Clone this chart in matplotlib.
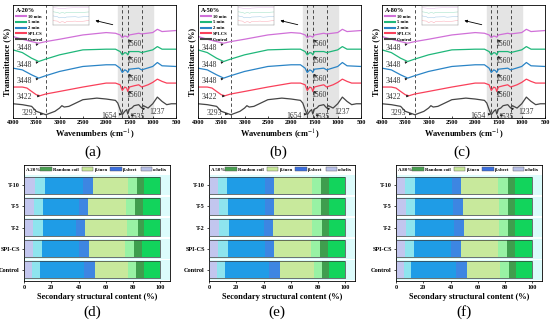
import numpy as np
import matplotlib.pyplot as plt
from matplotlib.patches import Patch
from matplotlib.lines import Line2D

plt.rcParams['font.family'] = ['Liberation Serif', 'DejaVu Serif']
plt.rcParams['mathtext.fontset'] = 'stix'

# ---- FTIR spectra (offset, arbitrary units) ----
ctrl_x = [4000, 3800, 3600, 3500, 3293, 3100, 3000, 2950, 2900, 2800, 2500, 2200, 2000, 1800, 1750,
          1700, 1654, 1600, 1560, 1535, 1500, 1450, 1400, 1300, 1237, 1200, 1100, 1000, 900, 800,
          700, 600, 500]
ctrl_y = [12.6, 11.8, 10.3, 5.9, 2.9, 5.9, 8.8, 10.9, 9.7, 10.3, 16.2, 17.6, 16.8, 15.6, 13.2,
          7.4, 2.9, 5.9, 7.4, 3.5, 7.9, 8.8, 10.9, 11.8, 8.8, 10.9, 8.8, 12.6, 18.5, 14.7,
          11.8, 12.6, 12.6]
spi_x = [4000, 3800, 3700, 3600, 3500, 3422, 3300, 3000, 2500, 2000, 1800, 1700, 1654, 1600,
         1560, 1535, 1500, 1400, 1300, 1237, 1100, 1000, 900, 800, 700, 500]
spi_y = [27.4, 27.4, 26.5, 23.5, 20.6, 19.7, 21.2, 23.5, 27.4, 30.9, 30.9, 29.4, 24.4, 27.4,
         26.5, 23.5, 27.4, 28.5, 29.4, 27.4, 29.4, 31.5, 34.4, 32.4, 30.9, 30.9]
t_x = [4000, 3800, 3600, 3448, 3300, 3000, 2500, 2000, 1800, 1700, 1654, 1600, 1560, 1535,
       1500, 1300, 1237, 1000, 900, 800, 500]
t2_y = [44.1, 42.6, 38.2, 35.3, 37.4, 41.2, 45.6, 47.1, 47.1, 44.1, 40.3, 42.6, 41.8, 40.3,
        43.2, 44.1, 42.6, 45.6, 49.1, 46.2, 45.6]
t5_y = [60.3, 57.9, 52.9, 50.0, 52.1, 55.9, 60.3, 60.9, 60.9, 58.8, 55.9, 57.9, 57.4, 55.9,
        58.8, 58.8, 57.9, 60.3, 63.2, 60.9, 60.9]
t10_y = [72.1, 69.7, 67.6, 66.2, 67.6, 69.7, 73.5, 75.6, 75.0, 73.5, 71.2, 72.6, 72.1, 71.5,
         73.5, 75.0, 74.4, 75.6, 78.5, 76.5, 77.4]

series_names = ['10 min', '5 min', '2 min', 'SPI-CS', 'Control']
series_cols = ['#d070d8', '#1fb77a', '#2a84c6', '#f9405a', '#454545']
series_xy = [(t_x, t10_y), (t_x, t5_y), (t_x, t2_y), (spi_x, spi_y), (ctrl_x, ctrl_y)]

# ---- secondary structure (%), rows: Control, SPI-CS, T-2, T-5, T-10 ----
samples = ['Control', 'SPI-CS', 'T-2', 'T-5', 'T-10']
helix = {'A-20%': [11.8, 13.2, 13.7, 14.2, 15.4],
         'A-50%': [11.8, 13.7, 14.7, 14.2, 13.5],
         'A-80%': [11.0, 12.9, 14.0, 14.0, 13.6]}
sheet = {'A-20%': [40.4, 34.1, 30.7, 32.6, 35.1],
         'A-50%': [40.4, 34.3, 31.9, 33.8, 34.4],
         'A-80%': [41.0, 34.6, 36.0, 35.0, 33.9]}
turn = {'A-20%': [30.2, 33.6, 38.9, 34.8, 32.5],
        'A-50%': [30.6, 33.6, 36.2, 34.4, 34.5],
        'A-80%': [30.7, 34.2, 32.0, 33.0, 34.5]}
coil = {'A-20%': [17.6, 19.1, 16.7, 18.4, 17.0],
        'A-50%': [17.2, 18.4, 17.2, 17.6, 17.6],
        'A-80%': [17.3, 18.3, 18.0, 18.0, 18.0]}

groups = ['A-20%', 'A-50%', 'A-80%']

fig = plt.figure(figsize=(5.5, 3.2), dpi=100)

ftir_left = [13, 198, 382]
bar_left = [24, 209, 396]
letters = ['(a)', '(b)', '(c)', '(d)', '(e)', '(f)']


def px_box(x0, x1, ytop, ybot):
    return [x0 / 550, 1 - ybot / 320, (x1 - x0) / 550, (ybot - ytop) / 320]


for k, g in enumerate(groups):
    x0 = ftir_left[k]
    ax = fig.add_axes(px_box(x0, x0 + 163, 5, 118))
    ax.axvspan(1750, 1000, color='#e4e4e4', zorder=0)
    for xv in [3293, 1654, 1535, 1237]:
        ax.axvline(xv, color='#333333', ls=(0, (4, 3)), lw=0.6, zorder=1)
    for (xs, ys), c, nm in zip(series_xy, series_cols, series_names):
        ax.plot(xs, ys, color=c, lw=0.9, zorder=2)
    ax.set_xlim(4000, 500)
    ax.set_ylim(0, 100)
    ax.set_xticks(range(4000, 499, -500))
    ax.set_yticks([])
    ax.tick_params(axis='x', labelsize=4.5, length=1.5, width=0.5, pad=1.5, direction='in')
    for lb in ax.get_xticklabels():
        lb.set_fontweight('bold')
    for s in ax.spines.values():
        s.set_linewidth(0.6)
    ax.set_xlabel('Wavenumbers (cm$^{-1}$)', fontsize=6, fontweight='bold', labelpad=1.5)
    ax.set_ylabel('Transmittance (%)', fontsize=6, fontweight='bold', labelpad=1.5)

    handles = [Line2D([0], [0], color=c, lw=1.5) for c in series_cols]
    leg = ax.legend(handles, series_names, loc='upper left', fontsize=3.3, frameon=False,
                    handlelength=2.2, labelspacing=0.35, borderaxespad=0.2, handletextpad=0.4,
                    title=g, title_fontsize=4.5, bbox_to_anchor=(0.0, 1.0))
    leg.get_title().set_fontweight('bold')
    leg._legend_box.align = 'left'
    for t in leg.get_texts():
        t.set_fontweight('bold')

    ann = dict(arrowstyle='-|>', color='#222222', lw=0.5, mutation_scale=3)
    kw = dict(fontsize=5.5, color='#333333', ha='center', va='center')
    for lab, xy, xyt in [('3448', (3450, 65.5), (3760, 61.8)),
                         ('3448', (3450, 49.5), (3760, 47.0)),
                         ('3448', (3450, 34.8), (3760, 32.4)),
                         ('3422', (3420, 19.5), (3760, 18.5)),
                         ('3293', (3300, 3.2), (3650, 4.2)),
                         ('1560', (1560, 71.0), (1410, 65.6)),
                         ('1560', (1560, 56.4), (1410, 50.6)),
                         ('1560', (1560, 40.6), (1410, 34.7)),
                         ('1560', (1560, 25.5), (1410, 20.0)),
                         ('1654', (1665, 3.6), (1930, 1.8)),
                         ('1535', (1535, 3.6), (1340, 1.0)),
                         ('1237', (1237, 8.6), (905, 5.2))]:
        ax.annotate(lab, xy=xy, xytext=xyt, arrowprops=ann, **kw)

    ax.annotate('', xy=(2290, 86.8), xytext=(1800, 82),
                arrowprops=dict(arrowstyle='-|>', color='black', lw=0.6, mutation_scale=4))
    ins = ax.inset_axes([0.245, 0.82, 0.22, 0.175])
    for (xs, ys), c in zip(series_xy[:4], series_cols[:4]):
        ins.plot(xs, ys, color=c, lw=0.35, alpha=0.45)
    ins.set_xlim(1800, 1000)
    ins.set_ylim(15, 82)
    ins.set_xticks([])
    ins.set_yticks([])
    for s in ins.spines.values():
        s.set_linewidth(0.3)
        s.set_color('#888888')

    fig.text((x0 + 80) / 550, 1 - 152 / 320, letters[k], fontsize=11, ha='center', va='center')

# ---- stacked bar panels ----
seg_cols = [('#c2c6ee', '#8ee4ee'), ('#1f9ce6', '#3d86e2'), ('#c8e99c', '#98f2a4'), ('#3f9e4e', '#12d45c')]
seg_split = [0.5, 0.8, 0.8, 0.3]
leg_cols = ['#4aa052', '#c8e89a', '#3b6fe0', '#b8c0e8']
leg_names = ['Random coil', '\u03b2-turn', '\u03b2-sheet', '\u03b1-helix']

for k, g in enumerate(groups):
    x0 = bar_left[k]
    ax = fig.add_axes(px_box(x0, x0 + 146, 165, 281))
    y = np.arange(len(samples))
    ax.barh(y, 107, height=0.92, color='#dcfbfb', zorder=0)
    starts = np.zeros(len(samples))
    for vals, (ca, cb), fr in zip([helix[g], sheet[g], turn[g], coil[g]], seg_cols, seg_split):
        vals = np.array(vals)
        ax.barh(y, vals * fr, left=starts, height=0.8, color=ca, zorder=2)
        ax.barh(y, vals * (1 - fr), left=starts + vals * fr, height=0.8, color=cb, zorder=2)
        starts = starts + vals
    ax.barh(y, starts, height=0.8, fill=False, edgecolor='#3a3a3a', lw=0.5, zorder=3)
    ax.set_xlim(0, 107)
    ax.set_ylim(-0.52, 4.95)
    ax.set_yticks(y)
    ax.set_yticklabels(samples)
    ax.set_xticks(range(0, 101, 20))
    ax.tick_params(labelsize=4.5, length=1.5, width=0.5, pad=1.5)
    for lb in ax.get_xticklabels() + ax.get_yticklabels():
        lb.set_fontweight('bold')
    for s in ax.spines.values():
        s.set_linewidth(0.6)
    ax.set_xlabel('Secondary structural content (%)', fontsize=6, fontweight='bold', labelpad=2)
    ax.text(0.015, 0.975, g, transform=ax.transAxes, fontsize=3.6, fontweight='bold',
            va='top', ha='left')
    hs = [Patch(facecolor=c, edgecolor='#555555', lw=0.3) for c in leg_cols]
    leg = ax.legend(hs, leg_names, loc='upper right', ncol=4, fontsize=3.4, frameon=False,
                    handlelength=2.4, handleheight=1.0, columnspacing=0.6, handletextpad=0.3,
                    borderaxespad=0.15, bbox_to_anchor=(1.0, 1.005))
    for t in leg.get_texts():
        t.set_fontweight('bold')
    fig.text((x0 + 68) / 550, 1 - 312 / 320, letters[k + 3], fontsize=11, ha='center', va='center')

fig.savefig('out.png', dpi=100)
